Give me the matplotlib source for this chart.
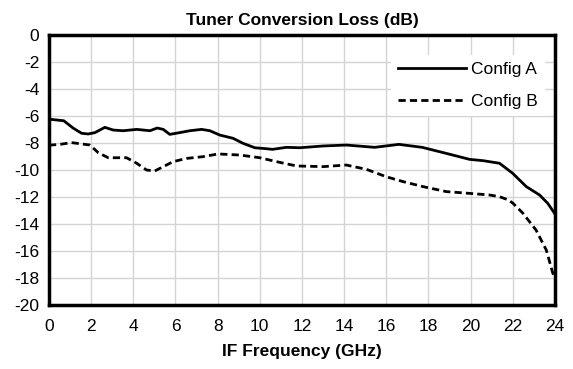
import matplotlib
matplotlib.use('Agg')
import matplotlib.pyplot as plt
import numpy as np

plt.rcParams.update({'font.family': ['Liberation Sans', 'DejaVu Sans'], 'font.size': 12.5,
                     'axes.unicode_minus': False})

# IF frequency (GHz) and conversion loss (dB) for each configuration
freq_a = [0.0, 0.1, 0.7, 1.15, 1.55, 1.86, 2.18, 2.65, 3.05, 3.52, 4.16, 4.79, 5.13, 5.42,
          5.73, 6.2, 6.68, 7.24, 7.63, 8.1, 8.73, 9.2, 9.76, 10.3, 10.6, 11.26, 11.9,
          13.0, 14.1, 15.45, 16.6, 17.7, 18.85, 19.95, 20.6, 21.37, 22.0, 22.64, 23.27,
          23.66, 24.0]
loss_a = [-6.25, -6.25, -6.35, -6.9, -7.28, -7.33, -7.23, -6.84, -7.04, -7.09, -6.99, -7.09,
          -6.89, -6.99, -7.36, -7.23, -7.09, -6.99, -7.09, -7.41, -7.65, -8.02, -8.35,
          -8.42, -8.47, -8.32, -8.35, -8.22, -8.15, -8.32, -8.1, -8.32, -8.77, -9.21,
          -9.31, -9.5, -10.25, -11.23, -11.85, -12.47, -13.25]

freq_b = [0.0, 0.1, 0.52, 1.07, 1.94, 2.34, 2.81, 3.68, 4.16, 4.63, 5.02, 5.42, 5.89, 6.53,
          7.31, 8.02, 9.05, 10.0, 10.79, 11.74, 13.0, 14.1, 15.06, 16.0, 16.8, 17.74,
          18.85, 19.95, 20.9, 21.37, 21.77, 22.0, 22.48, 23.1, 23.59, 23.9, 24.0]
loss_b = [-8.15, -8.15, -8.1, -7.97, -8.15, -8.72, -9.09, -9.09, -9.5, -10.0, -10.07, -9.75,
          -9.38, -9.14, -9.01, -8.81, -8.89, -9.09, -9.38, -9.7, -9.75, -9.63, -9.95,
          -10.5, -10.86, -11.23, -11.6, -11.73, -11.85, -11.98, -12.2, -12.45, -13.2,
          -14.44, -15.93, -17.65, -17.95]

fig = plt.figure(figsize=(5.73, 3.69), dpi=100)
ax = fig.add_axes([0.0855, 0.1734, 0.883, 0.7317])

ax.plot(freq_a, loss_a, '-', color='black', lw=2, label='Config A')
ax.plot(freq_b, loss_b, '--', color='black', lw=2, dashes=(2.6, 1.5), label='Config B')

ax.set_xlim(0, 24)
ax.set_ylim(-20, 0)
ax.set_xticks(np.arange(0, 25, 2))
ax.set_yticks(np.arange(-20, 1, 2))
ax.grid(True, color='#d4d4d4', lw=1)
ax.set_axisbelow(True)
ax.tick_params(axis='x', length=0, pad=10, labelsize=12.5)
ax.tick_params(axis='y', length=0, pad=7, labelsize=12.5)
for s in ax.spines.values():
    s.set_linewidth(2.5)

ax.set_title('Tuner Conversion Loss (dB)', fontsize=12.5, fontweight='bold', pad=7)
ax.set_xlabel('IF Frequency (GHz)', fontsize=12.5, fontweight='bold', labelpad=7)

leg = ax.legend(loc='upper right', bbox_to_anchor=(0.98, 0.925), borderaxespad=0,
                frameon=True, fancybox=False, edgecolor='none', framealpha=1,
                handlelength=3.9, handletextpad=0.3, labelspacing=0.97, fontsize=12.5)

fig.savefig('out.png', dpi=100)
